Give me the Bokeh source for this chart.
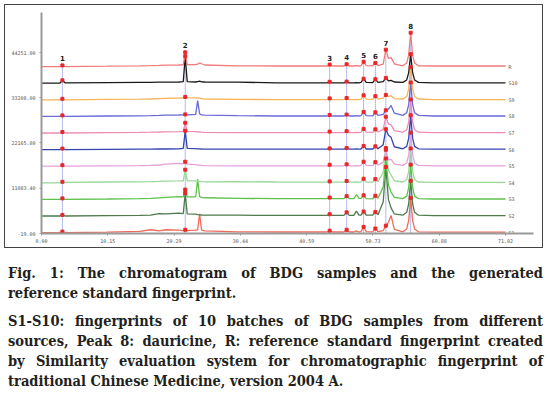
from bokeh.plotting import figure
from bokeh.models import FixedTicker, PrintfTickFormatter, Range1d, Div
from bokeh.layouts import column
from bokeh.core.properties import value
from bokeh.embed import file_html
from bokeh.resources import INLINE

# retention time grid (min)
T = [0.0, 2.8, 3.2, 3.6, 10.0, 15.0, 16.7, 18.0, 19.0, 21.0,
     21.7, 22.0, 22.3, 23.6, 23.9, 24.2, 24.5, 25.0, 30.0, 36.0,
     43.7, 44.1, 44.5, 46.3, 46.7, 47.1, 47.8, 48.2, 48.6, 48.9,
     49.3, 49.7, 50.7, 51.1, 51.5, 52.3, 52.7, 53.1, 53.5, 54.0,
     55.3, 55.9, 56.2, 56.5, 56.8, 57.1, 57.7, 60.0, 71.02]

# signal above each trace's own baseline
R = [0, 0, 300, 0, 100, 200, 250, 300, 350, 400,
     450, 3500, 500, 500, 600, 900, 700, 400, 200, 150,
     150, 500, 150, 150, 600, 150, 150, 250, 150, 200,
     1200, 250, 200, 900, 250, 600, 4150, 2000, 2200, 700,
     200, 900, 2800, 8300, 2800, 900, 200, 150, 150]
S10 = [0, 0, 700, 100, 150, 200, 200, 250, 250, 300,
       400, 6600, 400, 300, 400, 500, 350, 300, 250, 100,
       100, 350, 100, 100, 400, 100, 100, 150, 100, 200,
       1100, 200, 150, 1000, 200, 400, 1300, 600, 700, 300,
       200, 800, 2600, 7100, 2600, 800, 200, 100, 100]
S9 = [0, 0, 250, 0, 100, 150, 200, 300, 350, 450,
      500, 700, 550, 500, 450, 400, 300, 200, 100, 50,
      50, 350, 50, 50, 450, 50, 50, 100, 50, 150,
      1100, 150, 100, 900, 150, 400, 1200, 800, 1000, 300,
      200, 800, 2700, 8000, 2700, 800, 200, 50, 50]
S8 = [0, 0, 250, 0, 100, 150, 200, 250, 300, 350,
      400, 500, 400, 500, 3900, 600, 400, 300, 200, 100,
      100, 350, 100, 100, 450, 100, 100, 200, 100, 200,
      1100, 200, 150, 1000, 250, 500, 1500, 1800, 2700, 800,
      250, 900, 2900, 8300, 2900, 900, 250, 100, 100]
S7 = [0, 0, 250, 0, 100, 150, 200, 250, 300, 350,
      400, 2500, 400, 350, 300, 250, 200, 150, 100, 100,
      100, 350, 100, 100, 450, 100, 100, 150, 100, 200,
      1000, 200, 150, 900, 250, 900, 4000, 2200, 2000, 600,
      200, 800, 2700, 8200, 2700, 800, 200, 100, 100]
S6 = [0, 0, 250, 0, 50, 100, 100, 150, 150, 200,
      300, 4600, 300, 250, 200, 200, 150, 100, 100, 100,
      100, 300, 100, 100, 400, 100, 100, 150, 100, 150,
      900, 150, 150, 800, 200, 1200, 5000, 3500, 3000, 700,
      200, 800, 2800, 8400, 2800, 800, 200, 100, 100]
S5 = [0, 0, 250, 0, 100, 150, 200, 300, 500, 700,
      600, 1100, 500, 400, 300, 250, 200, 150, 100, 100,
      100, 350, 100, 100, 450, 100, 100, 150, 100, 200,
      1100, 200, 150, 1000, 250, 1000, 4000, 1500, 1700, 500,
      200, 800, 2700, 8200, 2700, 800, 200, 100, 100]
S4 = [0, 0, 250, 100, 200, 250, 300, 350, 400, 450,
      500, 3200, 500, 450, 400, 350, 300, 250, 300, 200,
      150, 350, 150, 150, 450, 150, 150, 200, 150, 200,
      1000, 200, 150, 900, 300, 2500, 8500, 3000, 1900, 500,
      200, 800, 2800, 8400, 2800, 800, 200, 100, 100]
S3 = [0, 0, 250, 0, 100, 200, 250, 400, 500, 700,
      600, 2400, 600, 600, 4900, 700, 500, 400, 250, 200,
      200, 450, 200, 200, 800, 200, 200, 1200, 250, 250,
      1000, 200, 150, 900, 300, 3000, 10000, 3500, 1800, 500,
      200, 800, 2900, 8500, 2900, 800, 200, 100, 100]
S2 = [0, 0, 250, 0, 100, 150, 200, 600, 500, 700,
      600, 5600, 500, 450, 350, 300, 250, 200, 200, 150,
      150, 450, 150, 150, 900, 150, 150, 1200, 200, 250,
      1100, 250, 200, 1000, 300, 3500, 12000, 4000, 2000, 500,
      200, 900, 3000, 8600, 3000, 900, 200, 100, 100]
S1 = [0, 0, 250, 0, 100, 300, 700, 400, 700, 600,
      500, 700, 500, 600, 700, 4600, 600, 400, 200, 150,
      150, 450, 150, 150, 700, 150, 150, 400, 150, 250,
      1400, 250, 200, 1000, 250, 500, 1700, 2500, 4200, 800,
      200, 900, 3000, 8500, 3000, 900, 200, 100, 100]

NAMES = ["R", "S10", "S9", "S8", "S7", "S6", "S5", "S4", "S3", "S2", "S1"]
SERIES = [R, S10, S9, S8, S7, S6, S5, S4, S3, S2, S1]
BASELINES = [40800, 36740, 32680, 28620, 24560, 20500, 16440, 12380, 8320, 4260, 200]
COLORS = ["#f27a7a", "#1a1a1a", "#f7b45a", "#6a6ad8", "#f08cb4", "#3444b0",
          "#e6a0dc", "#9ad89a", "#5cc24a", "#4e7a4e", "#f06a5a"]

PEAK_LABELS = ["1", "2", "3", "4", "5", "6", "7", "8"]
PEAK_TIMES = [3.2, 22.0, 44.1, 46.7, 49.3, 51.1, 52.7, 56.5]

XTICKS = [0.0, 10.15, 20.29, 30.44, 40.59, 50.73, 60.88, 71.02]
YTICKS = [-19.0, 11083.4, 22165.8, 33208.0, 44251.0]

p = figure(width=537, height=242, frame_width=492, frame_height=221,
           output_backend="svg", toolbar_location=None,
           x_range=Range1d(0, 75.3), y_range=Range1d(-19, 54040),
           min_border_left=36, min_border_right=9, min_border_top=7, min_border_bottom=14)
p.margin = (5, 0, 0, 5)
p.styles = {"outline": "1.5px solid #444"}
p.outline_line_color = None
p.xgrid.visible = False
p.ygrid.visible = False

p.xaxis.ticker = FixedTicker(ticks=XTICKS)
p.yaxis.ticker = FixedTicker(ticks=YTICKS)
p.xaxis.formatter = PrintfTickFormatter(format="%.2f")
p.yaxis.formatter = PrintfTickFormatter(format="%.2f")
for ax in (p.xaxis[0], p.yaxis[0]):
    ax.axis_line_color = "#9a9a9a"
    ax.axis_line_width = 2
    ax.major_tick_line_color = "#9a9a9a"
    ax.major_tick_out = 2
    ax.major_tick_in = 0
    ax.minor_tick_line_color = None
    ax.major_label_text_font = "DejaVu Sans Mono"
    ax.major_label_text_font_size = "5px"
    ax.major_label_text_color = "#555555"
p.xaxis.major_label_standoff = 3
p.yaxis.major_label_standoff = 4

# marker lines for the common peaks
idx = [T.index(t) for t in PEAK_TIMES]
top_vals = [BASELINES[0] + R[i] for i in idx]
p.segment(x0=PEAK_TIMES, y0=[BASELINES[-1]] * len(idx), x1=PEAK_TIMES, y1=top_vals,
          line_color="#5a68e0", line_width=1, line_dash="1 1", line_alpha=0.9)

# traces
for name, vals, base, col in zip(NAMES[::-1], SERIES[::-1], BASELINES[::-1], COLORS[::-1]):
    ys = [base + v for v in vals]
    p.line(T, ys, line_color=col, line_width=1.3)

# peak dots
dx, dy = [], []
for vals, base in zip(SERIES, BASELINES):
    for i in idx:
        dx.append(T[i])
        dy.append(base + vals[i])
p.scatter(dx, dy, marker="square", size=3, fill_color="#e8262a", line_color="#e8262a")

# peak numbers
p.text(x=PEAK_TIMES, y=top_vals, text=PEAK_LABELS, y_offset=-4,
       text_align="center", text_baseline="bottom", text_font=value("DejaVu Sans"),
       text_font_style="bold", text_font_size="7px", text_color="#222222")

# trace names
p.text(x=[T[-1]] * len(NAMES), y=BASELINES, text=NAMES, x_offset=3,
       text_align="left", text_baseline="middle", text_font=value("DejaVu Sans Mono"),
       text_font_size="5px", text_color="#555555")

just = "text-align:justify;text-align-last:justify;"
left = "text-align:left;"
cap = (
    '<div style="margin-left:8px;width:535px;">'
    f'<div style="{just}">Fig. 1: The chromatogram of BDG samples and the generated</div>'
    f'<div style="{left}">reference standard fingerprint.</div>'
    f'<div style="{just}margin-top:8px;">S1-S10: fingerprints of 10 batches of BDG samples from different</div>'
    f'<div style="{just}">sources, Peak 8: dauricine, R: reference standard fingerprint created</div>'
    f'<div style="{just}">by Similarity evaluation system for chromatographic fingerprint of</div>'
    f'<div style="{left}">traditional Chinese Medicine, version 2004 A.</div>'
    '</div>'
)
div = Div(text=cap, width=545, margin=(0, 0, 0, 0),
          styles={"font-family": "'DejaVu Serif Condensed', 'DejaVu Serif', serif",
                  "font-stretch": "condensed", "font-weight": "bold",
                  "font-size": "14.5px", "line-height": "20px", "color": "#231f20",
                  "padding-top": "16px"})

layout = column(p, div, spacing=0)
open("out.html", "w").write(file_html(layout, INLINE))
